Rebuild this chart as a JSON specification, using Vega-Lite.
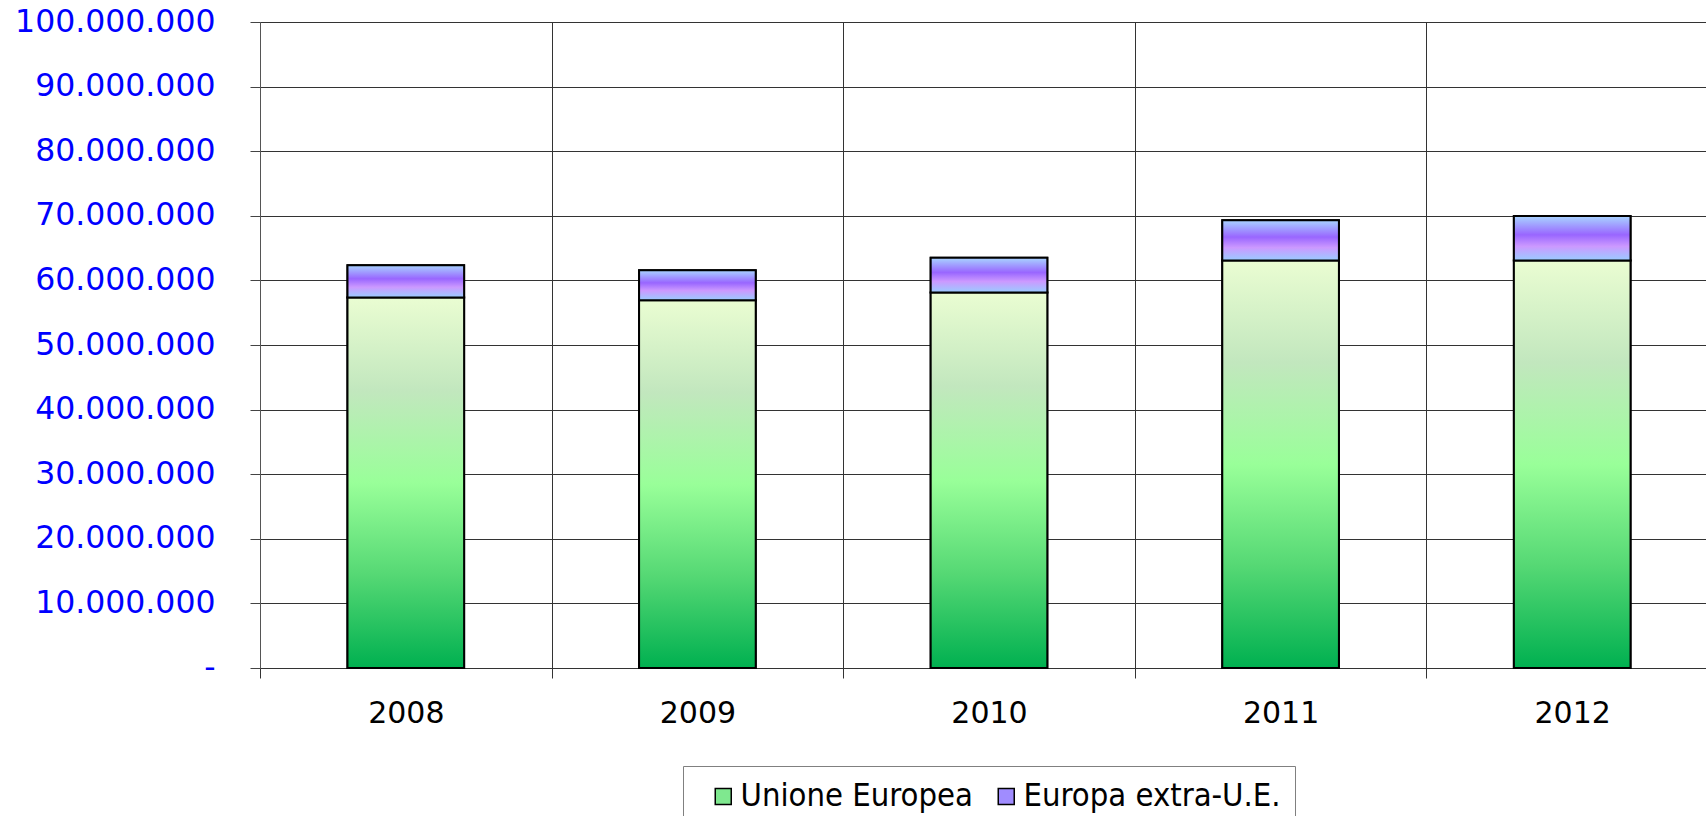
{
  "$schema": "https://vega.github.io/schema/vega-lite/v6.json",
  "autosize": {"type": "none"},
  "width": 1446,
  "height": 646,
  "padding": {"left": 260, "top": 22, "right": 0, "bottom": 148},
  "background": "white",
  "config": {
    "view": {"stroke": null},
    "locale": {"number": {"decimal": ",", "thousands": ".", "grouping": [3], "currency": ["€", ""]}}
  },
  "data": {
    "values": [
      {"year": "2008", "series": "Unione Europea", "value": 57350000},
      {"year": "2008", "series": "Europa extra-U.E.", "value": 5010000},
      {"year": "2009", "series": "Unione Europea", "value": 56930000},
      {"year": "2009", "series": "Europa extra-U.E.", "value": 4650000},
      {"year": "2010", "series": "Unione Europea", "value": 58130000},
      {"year": "2010", "series": "Europa extra-U.E.", "value": 5360000},
      {"year": "2011", "series": "Unione Europea", "value": 63080000},
      {"year": "2011", "series": "Europa extra-U.E.", "value": 6250000},
      {"year": "2012", "series": "Unione Europea", "value": 63080000},
      {"year": "2012", "series": "Europa extra-U.E.", "value": 6870000}
    ]
  },
  "transform": [
    {"stack": "value", "groupby": ["year"], "sort": [{"field": "series", "order": "descending"}], "as": ["v0", "v1"]}
  ],
  "encoding": {
    "x": {
      "field": "year", "type": "ordinal",
      "scale": {"range": [0, 1458], "paddingInner": 0.6, "paddingOuter": 0.3},
      "axis": {
        "title": null, "labelAngle": 0, "labelFont": "DejaVu Sans", "labelFontSize": 30,
        "labelColor": "#000000", "labelPadding": 20, "bandPosition": 0.5, "tickOffset": -145.8,
        "labelOffset": 145.8, "tickSize": 10,
        "tickColor": "#333333", "domainColor": "#333333", "grid": true, "gridColor": "#333333", "gridWidth": 1
      }
    },
    "y": {
      "field": "v1", "type": "quantitative",
      "scale": {"domain": [0, 100000000], "nice": false},
      "axis": {
        "title": null,
        "values": [0, 10000000, 20000000, 30000000, 40000000, 50000000, 60000000, 70000000, 80000000, 90000000, 100000000],
        "labelExpr": "datum.value == 0 ? '-' : format(datum.value, ',d')",
        "labelFont": "DejaVu Sans", "labelFontSize": 31.5, "labelColor": "#0000ff", "labelPadding": 35, "labelLimit": 400,
        "tickSize": 10, "tickColor": "#444444", "domainColor": "#555555", "grid": true, "gridColor": "#333333", "gridWidth": 1
      }
    },
    "y2": {"field": "v0"}
  },
  "layer": [
    {
      "mark": {"type": "bar", "stroke": "#000000", "strokeWidth": 2},
      "encoding": {
        "color": {
          "field": "series", "type": "nominal",
          "scale": {"domain": ["Unione Europea", "Europa extra-U.E."], "range": ["#7fe88f", "#a08cff"]},
          "legend": {
            "title": null, "orient": "none", "legendX": 423, "legendY": 744, "direction": "horizontal",
            "labelFont": "DejaVu Sans Condensed", "labelFontSize": 32.5, "labelColor": "#000000",
            "symbolType": "square", "symbolSize": 256, "symbolStrokeColor": "#000000", "symbolStrokeWidth": 1.5,
            "symbolOpacity": 1, "labelOffset": 1, "columnPadding": 7, "padding": 14, "symbolOffset": 10,
            "gridAlign": "each",
            "strokeColor": "#808080", "fillColor": "#ffffff", "labelLimit": 400
          }
        }
      }
    },
    {
      "transform": [{"filter": "datum.series == 'Unione Europea'"}],
      "mark": {
        "type": "bar", "stroke": "#000000", "strokeWidth": 2,
        "fill": {"gradient": "linear", "x1": 0, "y1": 0, "x2": 0, "y2": 1,
          "stops": [
            {"offset": 0, "color": "#eafdd2"},
            {"offset": 0.25, "color": "#c2e7be"},
            {"offset": 0.5, "color": "#99ff99"},
            {"offset": 0.75, "color": "#55d874"},
            {"offset": 1, "color": "#00b050"}
          ]}
      }
    },
    {
      "transform": [{"filter": "datum.series == 'Europa extra-U.E.'"}],
      "mark": {
        "type": "bar", "stroke": "#000000", "strokeWidth": 2,
        "fill": {"gradient": "linear", "x1": 0, "y1": 0, "x2": 0, "y2": 1,
          "stops": [
            {"offset": 0, "color": "#a8d4ff"},
            {"offset": 0.42, "color": "#9966ff"},
            {"offset": 0.68, "color": "#cc99ff"},
            {"offset": 1, "color": "#99ccff"}
          ]}
      }
    }
  ]
}
